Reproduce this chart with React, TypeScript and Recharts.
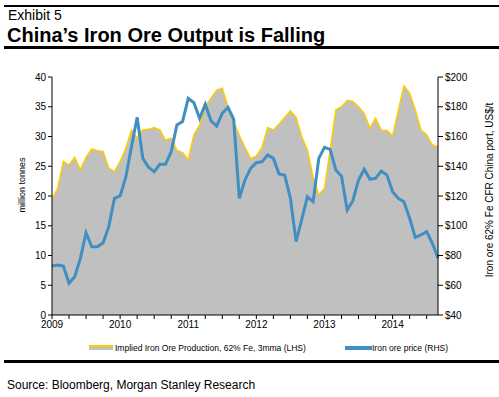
import React from 'react';
import { ComposedChart, Area, Line, XAxis, YAxis } from 'recharts';

const years = ['2009', '2010', '2011', '2012', '2013', '2014'];

const production = [
  19.5, 21.3, 25.8, 25.2, 26.5, 24.4, 26.5, 27.9, 27.6, 27.5, 24.7, 24.1,
  25.8, 28.0, 31.1, 29.7, 31.1, 31.2, 31.5, 31.1, 29.4, 29.7, 27.7, 27.3,
  26.1, 30.3, 31.9, 35.0, 36.4, 37.8, 38.1, 35.0, 32.5, 30.2, 28.2, 26.3,
  26.7, 28.2, 31.5, 31.1, 32.1, 33.2, 34.3, 33.2, 30.0, 27.7, 23.2, 20.2,
  21.3, 27.7, 34.5, 35.0, 36.1, 35.9, 35.0, 33.9, 31.4, 33.1, 31.1, 31.0,
  30.1, 34.3, 38.5, 37.3, 34.5, 31.1, 30.3, 28.6, 28.3,
];

const price = [
  73.0, 73.6, 72.9, 61.3, 65.7, 78.1, 95.3, 85.9, 85.9, 88.6, 99.4, 118.4,
  120.0, 132.6, 153.1, 172.9, 145.3, 139.3, 136.3, 141.3, 141.3, 149.8, 167.7, 170.0,
  185.7, 182.7, 172.2, 181.6, 170.6, 167.1, 175.6, 179.6, 171.6, 118.4, 130.8, 138.6,
  142.4, 143.1, 147.6, 145.3, 134.8, 133.9, 118.4, 89.3, 104.3, 119.5, 116.2, 145.3,
  152.7, 151.4, 137.5, 133.4, 110.6, 116.8, 130.8, 138.0, 131.2, 131.9, 136.8, 134.1,
  122.9, 118.4, 116.2, 105.0, 92.2, 93.8, 96.0, 88.2, 78.1,
];

const leftTicks = [0, 5, 10, 15, 20, 25, 30, 35, 40];
const rightTicks = [40, 60, 80, 100, 120, 140, 160, 180, 200];

const data = production.map((v, i) => ({ m: i, prod: v, price: price[i] }));
const xTicks: number[] = [];
for (let i = 0; i <= 66; i += 3) xTicks.push(i);

const FONT = 'Arial, "Liberation Sans", sans-serif';
const YELLOW = '#FFCC00';
const GRAY = '#C0C0C0';
const BLUE = '#3F8FC2';

export default function App() {
  return (
    <div style={{ position: 'absolute', left: 0, top: 0, width: 499, height: 397, background: '#fff', fontFamily: FONT, color: '#000', overflow: 'hidden' }}>
      <div style={{ position: 'absolute', left: 4, top: 5, width: 495, height: 2, background: '#000' }} />
      <div style={{ position: 'absolute', left: 8, top: 8, fontSize: 14, lineHeight: '14px', whiteSpace: 'nowrap' }}>Exhibit 5</div>
      <div style={{ position: 'absolute', left: 7, top: 25, fontSize: 20, lineHeight: '20px', fontWeight: 'bold', whiteSpace: 'nowrap' }}>China’s Iron Ore Output is Falling</div>
      <div style={{ position: 'absolute', left: 4, top: 46, width: 495, height: 3, background: '#000' }} />

      <div style={{ position: 'absolute', left: 0, top: 60 }}>
        <ComposedChart width={499} height={300} data={data} margin={{ top: 17, right: 0, bottom: 25, left: 0 }}>
          <XAxis
            dataKey="m"
            type="number"
            domain={[0, 68]}
            ticks={xTicks}
            interval={0}
            tickFormatter={(v: number) => (v % 12 === 0 ? years[v / 12] : '')}
            tick={{ fontSize: 10, fill: '#000', fontFamily: FONT }}
            tickSize={4}
            axisLine={{ stroke: '#000' }}
            tickLine={{ stroke: '#000' }}
            height={20}
          />
          <YAxis
            yAxisId="left"
            domain={[0, 40]}
            ticks={leftTicks}
            interval={0}
            width={52}
            tickSize={4}
            tick={{ fontSize: 10, fill: '#000', fontFamily: FONT }}
            axisLine={{ stroke: '#000' }}
            tickLine={{ stroke: '#000' }}
          />
          <YAxis
            yAxisId="right"
            orientation="right"
            domain={[40, 200]}
            ticks={rightTicks}
            interval={0}
            width={61}
            tickSize={5}
            tickFormatter={(v: number) => `$${v}`}
            tick={{ fontSize: 10, fill: '#000', fontFamily: FONT }}
            axisLine={{ stroke: '#000' }}
            tickLine={{ stroke: '#000' }}
          />
          <Area
            yAxisId="left"
            type="linear"
            dataKey="prod"
            fill={GRAY}
            fillOpacity={1}
            stroke={YELLOW}
            strokeWidth={1.5}
            isAnimationActive={false}
            dot={false}
            activeDot={false}
          />
          <Line
            yAxisId="right"
            type="linear"
            dataKey="price"
            stroke={BLUE}
            strokeWidth={3}
            dot={false}
            activeDot={false}
            isAnimationActive={false}
          />
        </ComposedChart>
      </div>

      <div style={{ position: 'absolute', left: 22, top: 185, width: 0, height: 0 }}>
        <div style={{ position: 'absolute', transform: 'translate(-50%, -50%) rotate(-90deg)', fontSize: 9, whiteSpace: 'nowrap' }}>million tonnes</div>
      </div>
      <div style={{ position: 'absolute', left: 489, top: 190, width: 0, height: 0 }}>
        <div style={{ position: 'absolute', transform: 'translate(-50%, -50%) rotate(-90deg)', fontSize: 10, whiteSpace: 'nowrap' }}>Iron ore 62% Fe CFR China port, US$/t</div>
      </div>

      <div style={{ position: 'absolute', left: 89, top: 345, width: 24, height: 5, background: GRAY, borderTop: `2px solid ${YELLOW}`, boxSizing: 'border-box' }} />
      <div style={{ position: 'absolute', left: 115, top: 343, fontSize: 8.5, lineHeight: '10px', whiteSpace: 'nowrap' }}>Implied Iron Ore Production, 62% Fe, 3mma (LHS)</div>
      <div style={{ position: 'absolute', left: 345, top: 346, width: 27, height: 4, background: BLUE }} />
      <div style={{ position: 'absolute', left: 372, top: 343, fontSize: 8.5, lineHeight: '10px', whiteSpace: 'nowrap' }}>Iron ore price (RHS)</div>

      <div style={{ position: 'absolute', left: 4, top: 360, width: 495, height: 3, background: '#000' }} />
      <div style={{ position: 'absolute', left: 7, top: 379, fontSize: 12, lineHeight: '12px', whiteSpace: 'nowrap' }}>Source: Bloomberg, Morgan Stanley Research</div>
    </div>
  );
}
